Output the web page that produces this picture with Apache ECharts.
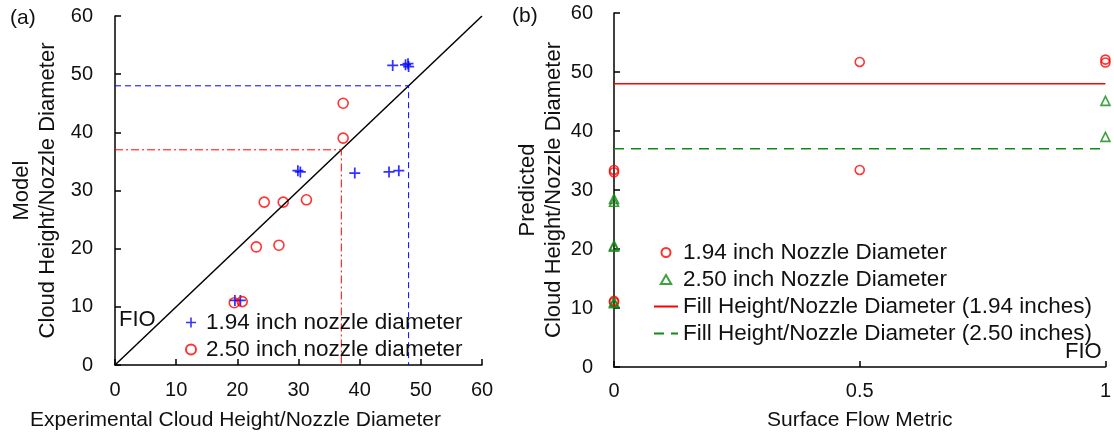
<!DOCTYPE html>
<html>
<head>
<meta charset="utf-8">
<script src="https://cdn.jsdelivr.net/npm/echarts@6/dist/echarts.min.js"></script>
<style>
  html, body { margin: 0; padding: 0; background: #fff; }
  #chart { width: 1114px; height: 438px; }
</style>
</head>
<body>
<div id="chart"></div>
<script>
// (a) model vs. experimental cloud height / nozzle diameter
const exp194 = [[45.4, 51.5], [47.5, 51.6], [47.9, 51.8], [48.0, 51.3], [29.9, 33.4], [30.3, 33.2],
                [39.2, 33.0], [44.8, 33.2], [46.4, 33.4], [19.6, 11.1], [20.5, 11.1]];
const exp250 = [[37.3, 45.0], [37.3, 39.0], [24.4, 28.0], [27.5, 28.0], [31.3, 28.4],
                [23.1, 20.3], [26.8, 20.6], [19.5, 10.7], [20.8, 10.9]];
const parityLine = [[0, 0], [60, 60]];
const fillHeight194 = 48;
const fillHeight250 = 37;

// (b) predicted cloud height vs. surface flow metric
const flow194 = [[0, 33.0], [0, 33.4], [0, 11.0], [0, 11.2], [0.5, 51.7], [0.5, 33.4], [1, 52.1], [1, 51.6]];
const flow250 = [[0, 28.0], [0, 28.5], [0, 20.4], [0, 20.6], [0, 10.8], [0, 11.0], [1, 45.1], [1, 39.0]];
const flowRange = [0, 1];

const FONT = "'Liberation Sans', Arial, sans-serif";
const INK = '#111';
const BLUE = '#0000ff';
const RED = '#ff0000';
const GREEN = '#108a10';
const PLUS = 'path://M4.2,0H5.8V4.2H10V5.8H5.8V10H4.2V5.8H0V4.2H4.2Z';
const TRIANGLE = 'path://M5,0L10,8.66L0,8.66Z';

const axisCommon = {
  axisLine: { lineStyle: { color: '#000', width: 1.5 } },
  axisTick: { inside: true, length: 6, lineStyle: { color: '#000', width: 1.5 } },
  splitLine: { show: false },
  axisLabel: { color: INK, fontFamily: FONT, fontSize: 20 },
  nameTextStyle: { color: INK, fontFamily: FONT, fontSize: 21, lineHeight: 26 }
};
const yNameStyle = Object.assign({}, axisCommon.nameTextStyle, { fontSize: 22 });

const legendText = { color: INK, fontFamily: FONT, fontSize: 22.5 };
const hiddenDot = { opacity: 0 };

const chart = echarts.init(document.getElementById('chart'), null, { renderer: 'canvas' });

chart.setOption({
  animation: false,
  backgroundColor: '#fff',
  grid: [
    { left: 115, top: 16, width: 367, height: 350 },
    { left: 614, top: 13, width: 493, height: 355 }
  ],
  xAxis: [
    Object.assign({}, axisCommon, {
      gridIndex: 0, type: 'value', min: 0, max: 60, interval: 10,
      name: 'Experimental Cloud Height/Nozzle Diameter',
      nameLocation: 'middle', nameGap: 42,
      nameTextStyle: Object.assign({}, axisCommon.nameTextStyle, { padding: [0, 126, 0, 0] }),
      axisLabel: Object.assign({}, axisCommon.axisLabel, { margin: 15 })
    }),
    Object.assign({}, axisCommon, {
      gridIndex: 1, type: 'value', min: flowRange[0], max: flowRange[1], interval: 0.5,
      name: 'Surface Flow Metric',
      nameLocation: 'middle', nameGap: 40,
      axisLabel: Object.assign({}, axisCommon.axisLabel, { margin: 14 })
    })
  ],
  yAxis: [
    Object.assign({}, axisCommon, {
      gridIndex: 0, type: 'value', min: 0, max: 60, interval: 10,
      name: 'Model\nCloud Height/Nozzle Diameter',
      nameLocation: 'middle', nameGap: 54,
      nameTextStyle: yNameStyle,
      axisLabel: Object.assign({}, axisCommon.axisLabel, { margin: 22 })
    }),
    Object.assign({}, axisCommon, {
      gridIndex: 1, type: 'value', min: 0, max: 60, interval: 10,
      name: 'Predicted\nCloud Height/Nozzle Diameter',
      nameLocation: 'middle', nameGap: 47,
      nameTextStyle: yNameStyle,
      axisLabel: Object.assign({}, axisCommon.axisLabel, { margin: 21 })
    })
  ],
  legend: [
    {
      orient: 'vertical', left: 180, top: 306,
      itemWidth: 20, itemHeight: 10, itemGap: 4,
      textStyle: legendText,
      data: ['1.94 inch nozzle diameter', '2.50 inch nozzle diameter']
    },
    {
      orient: 'vertical', left: 648, top: 236,
      itemWidth: 24, itemHeight: 9, itemGap: 4,
      textStyle: legendText,
      data: [
        '1.94 inch Nozzle Diameter',
        '2.50 inch Nozzle Diameter',
        { name: 'Fill Height/Nozzle Diameter (1.94 inches)', itemStyle: hiddenDot },
        { name: 'Fill Height/Nozzle Diameter (2.50 inches)', itemStyle: hiddenDot }
      ]
    }
  ],
  graphic: [
    { type: 'text', left: 10, top: 8, style: { text: '(a)', font: '21px ' + FONT, fill: INK } },
    { type: 'text', left: 512, top: 6, style: { text: '(b)', font: '21px ' + FONT, fill: INK } },
    { type: 'text', left: 119, top: 309, style: { text: 'FIO', font: '22px ' + FONT, fill: INK } },
    { type: 'text', left: 1065, top: 341, style: { text: 'FIO', font: '22px ' + FONT, fill: INK } }
  ],
  series: [
    {
      name: 'Parity', type: 'line', xAxisIndex: 0, yAxisIndex: 0,
      data: parityLine, symbol: 'none', silent: true,
      lineStyle: { color: '#000', width: 1.5 }
    },
    {
      name: 'Fill 1.94 guide', type: 'line', xAxisIndex: 0, yAxisIndex: 0,
      data: [[0, fillHeight194], [fillHeight194, fillHeight194], [fillHeight194, 0]],
      symbol: 'none', silent: true,
      lineStyle: { color: BLUE, width: 1, type: [6, 4] }
    },
    {
      name: 'Fill 2.50 guide', type: 'line', xAxisIndex: 0, yAxisIndex: 0,
      data: [[0, fillHeight250], [fillHeight250, fillHeight250], [fillHeight250, 0]],
      symbol: 'none', silent: true,
      lineStyle: { color: RED, width: 1, type: [8, 3, 2, 3] }
    },
    {
      name: '1.94 inch nozzle diameter', type: 'scatter', xAxisIndex: 0, yAxisIndex: 0,
      data: exp194, symbol: PLUS, symbolSize: 11,
      itemStyle: { color: BLUE }
    },
    {
      name: '2.50 inch nozzle diameter', type: 'scatter', xAxisIndex: 0, yAxisIndex: 0,
      data: exp250, symbol: 'circle', symbolSize: 10,
      itemStyle: { color: 'rgba(0,0,0,0)', borderColor: RED, borderWidth: 1.6 }
    },
    {
      name: '1.94 inch Nozzle Diameter', type: 'scatter', xAxisIndex: 1, yAxisIndex: 1,
      data: flow194, symbol: 'circle', symbolSize: 9, clip: false,
      itemStyle: { color: 'rgba(0,0,0,0)', borderColor: RED, borderWidth: 1.6 }
    },
    {
      name: '2.50 inch Nozzle Diameter', type: 'scatter', xAxisIndex: 1, yAxisIndex: 1,
      data: flow250, symbol: TRIANGLE, symbolSize: 9, clip: false,
      itemStyle: { color: 'rgba(0,0,0,0)', borderColor: GREEN, borderWidth: 1.6 }
    },
    {
      name: 'Fill Height/Nozzle Diameter (1.94 inches)', type: 'line', xAxisIndex: 1, yAxisIndex: 1,
      data: flowRange.map(x => [x, fillHeight194]), symbol: 'none',
      lineStyle: { color: RED, width: 1.5 }, itemStyle: { color: RED }
    },
    {
      name: 'Fill Height/Nozzle Diameter (2.50 inches)', type: 'line', xAxisIndex: 1, yAxisIndex: 1,
      data: flowRange.map(x => [x, fillHeight250]), symbol: 'none',
      lineStyle: { color: GREEN, width: 1.5, type: [10, 7] }, itemStyle: { color: GREEN }
    }
  ]
});
</script>
</body>
</html>
